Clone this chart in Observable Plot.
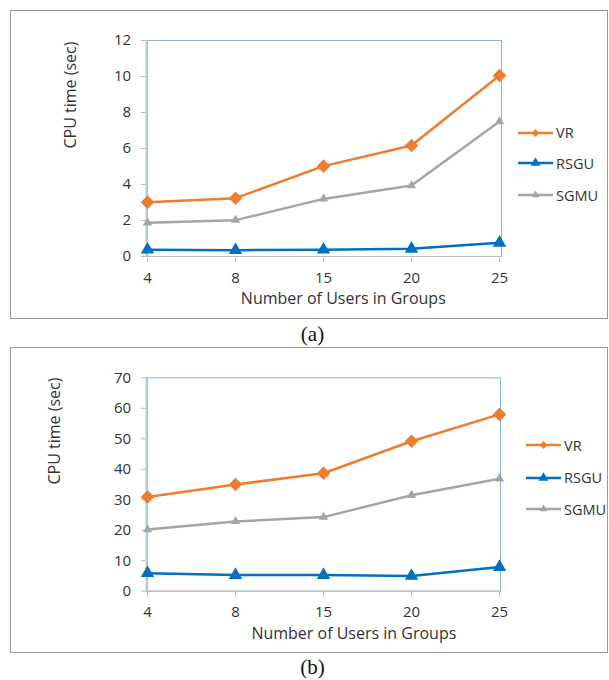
<!DOCTYPE html>
<html>
<head>
<meta charset="utf-8">
<script src="https://cdn.jsdelivr.net/npm/d3@7"></script>
<script src="https://cdn.jsdelivr.net/npm/@observablehq/plot@0.6"></script>
<style>
  html, body { margin: 0; padding: 0; background: #fff; }
  #page { position: relative; width: 609px; height: 680px; overflow: hidden; background: #fff; }
  .box { position: absolute; border: 1px solid #9a9a9a; box-sizing: border-box; }
  .panel { position: absolute; left: 0; }
  .caption { position: absolute; width: 100%; text-align: center; font-family: "Liberation Serif", "Times New Roman", serif; font-size: 21px; color: #111; line-height: 1; }
  .legend { position: absolute; font-family: "Open Sans", sans-serif; font-size: 14.5px; color: #333; }
  .legend .row { position: absolute; display: flex; align-items: center; white-space: nowrap; }
  .legend svg { display: block; margin-right: 3px; }
</style>
</head>
<body>
<div id="page"></div>
<script>
// ---- data ----
const users = ["4", "8", "15", "20", "25"];
const series = ["VR", "RSGU", "SGMU"];
const seriesColors = ["#ED7D31", "#0070C0", "#A5A5A5"];
const seriesSymbols = ["diamond2", "triangle", "triangle"];

// panel (a)
const vrA   = [3.02, 3.24, 5.02, 6.17, 10.05];
const rsguA = [0.38, 0.35, 0.38, 0.43, 0.76];
const sgmuA = [1.88, 2.02, 3.2, 3.94, 7.5];
const yTicksA = [0, 2, 4, 6, 8, 10, 12];

// panel (b)
const vrB   = [30.9, 35.0, 38.7, 49.2, 58.0];
const rsguB = [5.9, 5.3, 5.3, 5.0, 7.9];
const sgmuB = [20.2, 22.9, 24.3, 31.5, 36.9];
const yTicksB = [0, 10, 20, 30, 40, 50, 60, 70];

const xTitle = "Number of Users in Groups";
const yTitle = "CPU time (sec)";
const captions = ["(a)", "(b)"];

const dotR = {VR: 6.1, RSGU: 5.0, SGMU: 3.5};

function tidy(vr, rsgu, sgmu) {
  const cols = {VR: vr, RSGU: rsgu, SGMU: sgmu};
  return series.flatMap(s => users.map((u, i) => ({series: s, users: u, value: cols[s][i]})));
}

function makePanel(cfg) {
  const data = tidy(cfg.vr, cfg.rsgu, cfg.sgmu);
  const yMax = cfg.yTicks[cfg.yTicks.length - 1];
  return Plot.plot({
    width: 609,
    height: 320,
    marginLeft: cfg.mL,
    marginRight: cfg.mR,
    marginTop: cfg.mT,
    marginBottom: cfg.mB,
    style: {fontFamily: "Open Sans, sans-serif", fontSize: "15px", color: "#333", background: "transparent", overflow: "visible"},
    x: {type: "point", domain: users, padding: 0, label: null},
    y: {domain: [0, yMax], label: null},
    color: {domain: series, range: seriesColors},
    symbol: {domain: series, range: seriesSymbols},
    marks: [
      Plot.frame({stroke: "#8EB4E3", strokeWidth: 1}),
      Plot.axisY({ticks: cfg.yTicks, tickSize: 5, tickPadding: 10, stroke: "#BFBFBF", fill: "#333", label: null}),
      Plot.axisX({tickSize: 6, tickPadding: cfg.xPad, stroke: "#BFBFBF", fill: "#333", label: null}),
      Plot.ruleX([users[0]], {stroke: "#BFBFBF", strokeWidth: 1.2}),
      Plot.ruleY([0], {stroke: "#BFBFBF", strokeWidth: 1.2}),
      Plot.line(data, {x: "users", y: "value", z: "series", stroke: "series", strokeWidth: 2.5}),
      ...series.map(s => Plot.dot(data.filter(d => d.series === s), {
        x: "users", y: "value", fill: "series", symbol: "series", r: dotR[s], stroke: "none"
      })),
      Plot.text([yTitle], {frameAnchor: "left", text: d => d, rotate: -90, dx: cfg.yTitleDx, fontSize: 16, fill: "#333"}),
      Plot.text([xTitle], {frameAnchor: "bottom", text: d => d, dx: cfg.xTitleDx, dy: cfg.xTitleDy, fontSize: 16, fill: "#333"})
    ]
  });
}

function makeLegend(left, rows) {
  const div = document.createElement("div");
  div.className = "legend";
  series.forEach((s, i) => {
    const row = document.createElement("div");
    row.className = "row";
    row.style.left = left + "px";
    row.style.top = (rows[i] - 10) + "px";
    row.style.height = "20px";
    const svg = d3.create("svg").attr("width", 35).attr("height", 14);
    svg.append("line").attr("x1", 0).attr("x2", 35).attr("y1", 7).attr("y2", 7)
      .attr("stroke", seriesColors[i]).attr("stroke-width", 2.5);
    const sym = s === "VR" ? d3.symbolDiamond2 : d3.symbolTriangle;
    const size = s === "VR" ? 40 : (s === "RSGU" ? 42 : 26);
    svg.append("path").attr("d", d3.symbol(sym, size)()).attr("transform", "translate(17.5,7)")
      .attr("fill", seriesColors[i]);
    row.appendChild(svg.node());
    const t = document.createElement("span");
    t.textContent = s;
    row.appendChild(t);
    div.appendChild(row);
  });
  return div;
}

const page = document.getElementById("page");

// boxes
[[10, 10, 598, 309], [10, 347, 598, 306]].forEach(([l, t, w, h]) => {
  const b = document.createElement("div");
  b.className = "box";
  Object.assign(b.style, {left: l + "px", top: t + "px", width: w + "px", height: h + "px"});
  page.appendChild(b);
});

// panel (a)
const pa = makePanel({vr: vrA, rsgu: rsguA, sgmu: sgmuA, yTicks: yTicksA, xPad: 10,
  mL: 145.6, mR: 108, mT: 40, mB: 64, yTitleDx: -75.6, xTitleDx: 19.5, xTitleDy: 47.5});
pa.classList.add("panel");
pa.style.top = "0px";
page.appendChild(pa);
page.appendChild(makeLegend(518, [132.7, 163, 195]));

// panel (b)
const pb = makePanel({vr: vrB, rsgu: rsguB, sgmu: sgmuB, yTicks: yTicksB, xPad: 9,
  mL: 145.7, mR: 109, mT: 37.3, mB: 69.3, yTitleDx: -91.3, xTitleDx: 30.5, xTitleDy: 47.5});
pb.classList.add("panel");
pb.style.top = "340px";
page.appendChild(pb);
page.appendChild(makeLegend(526, [445, 477.7, 509.3]));

// captions
[[captions[0], 324], [captions[1], 657]].forEach(([txt, top]) => {
  const c = document.createElement("div");
  c.className = "caption";
  c.textContent = txt;
  c.style.top = top + "px";
  c.style.left = "8px";
  page.appendChild(c);
});
</script>
</body>
</html>
